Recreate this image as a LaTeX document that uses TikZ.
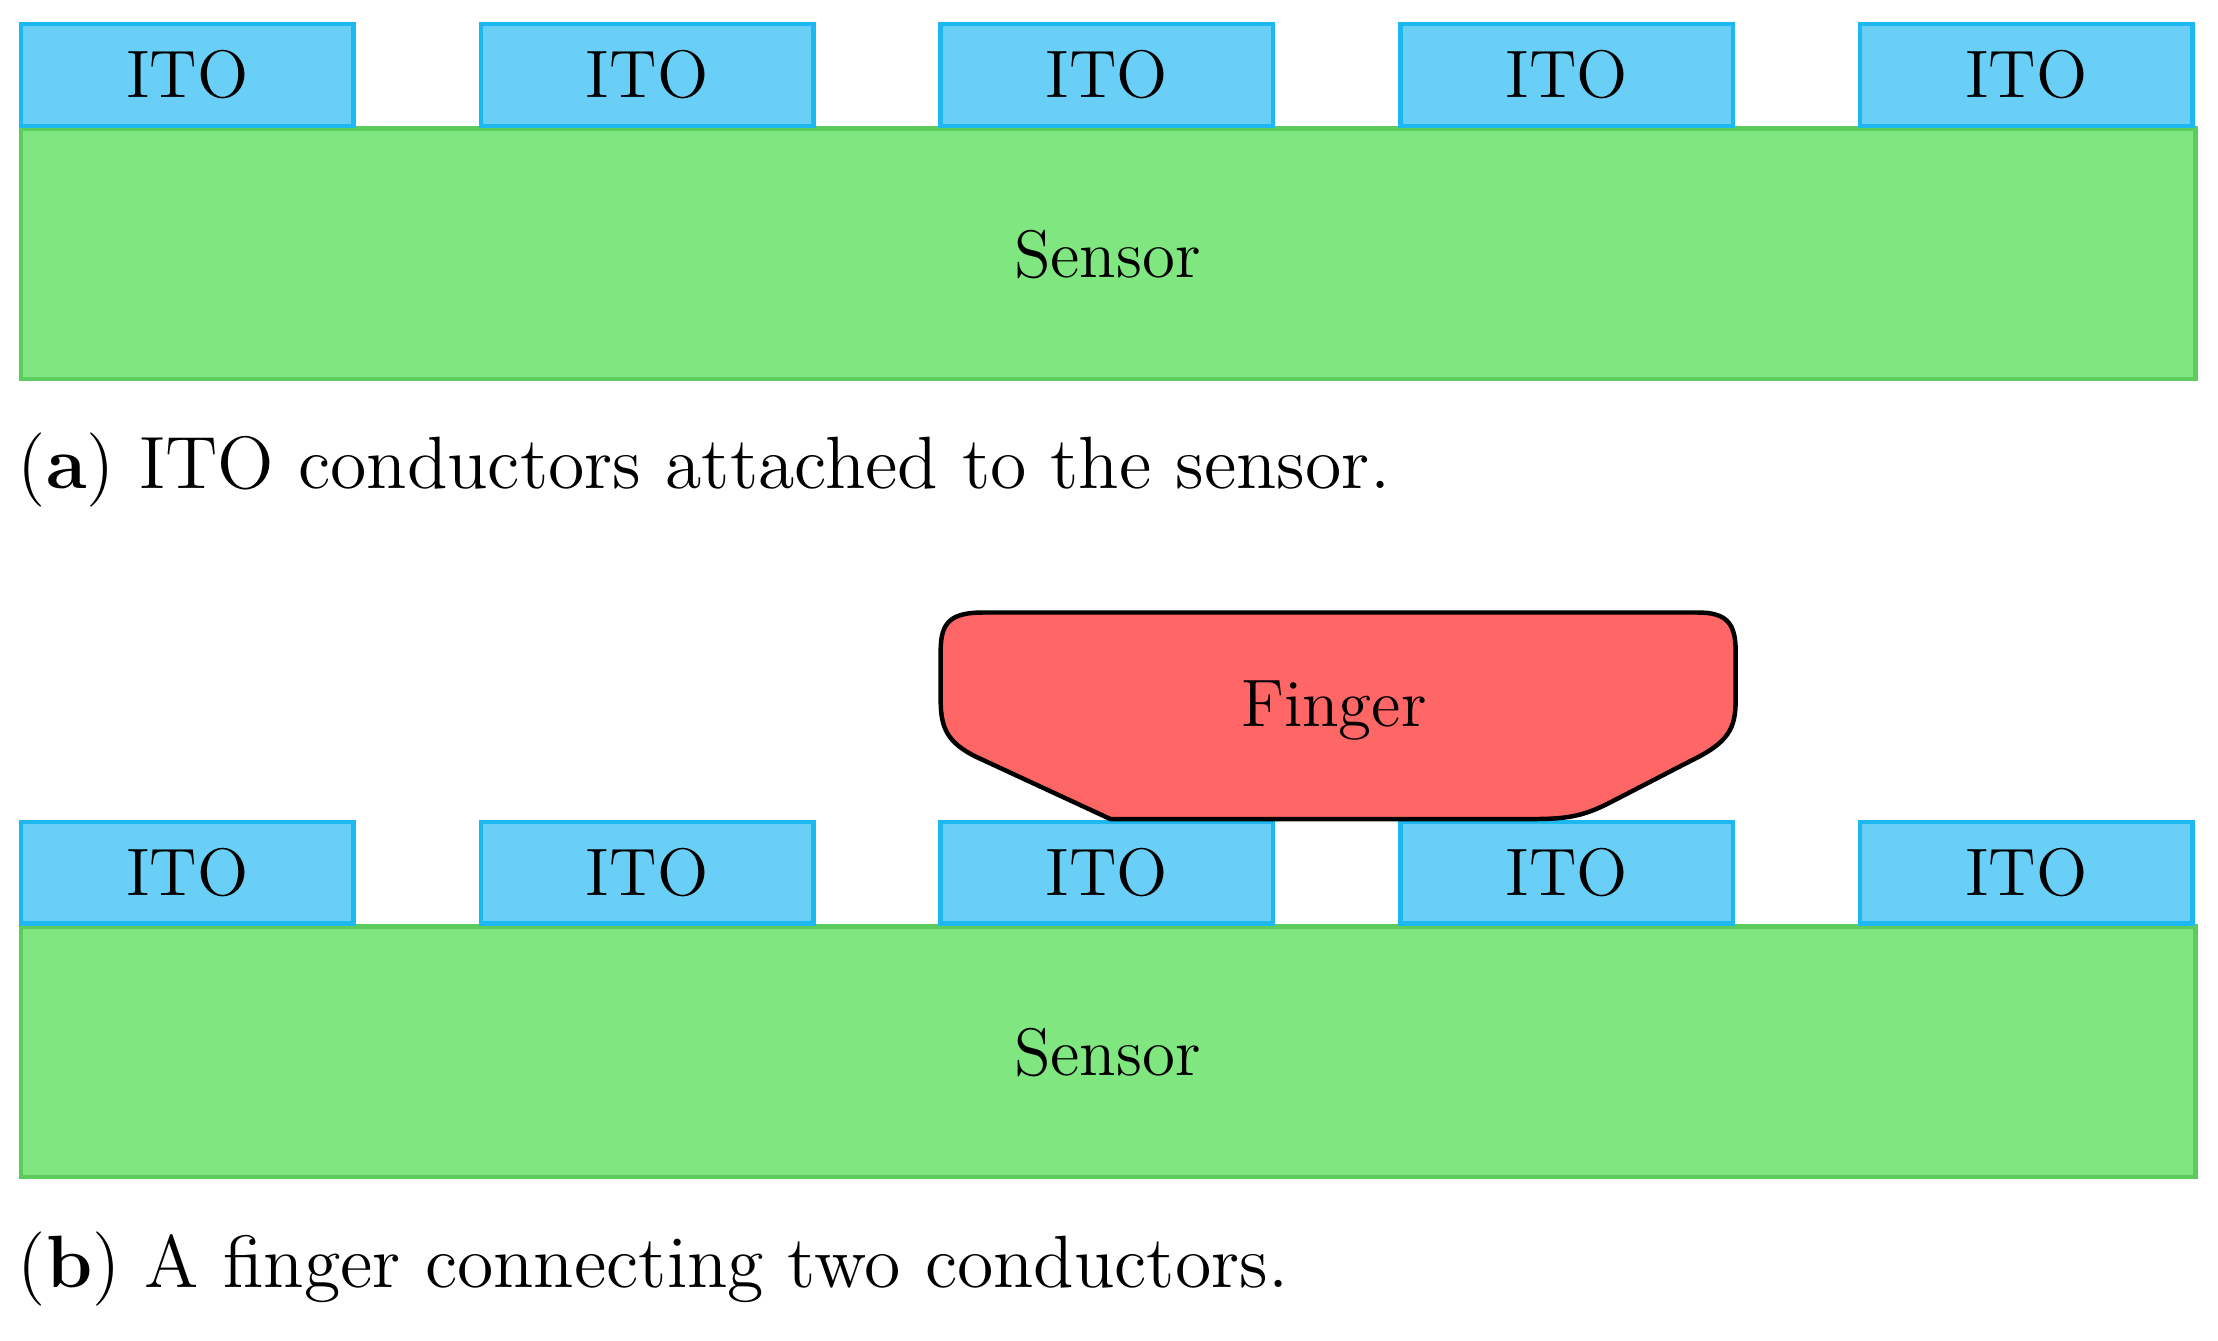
\documentclass[tikz,border=0pt]{standalone}
\begin{document}
\begin{tikzpicture}[x=0.01cm,y=-0.01cm,
  ito/.style={draw={rgb,255:red,29;green,184;blue,240},fill={rgb,255:red,106;green,207;blue,246},line width=0.9pt},
  sensor/.style={draw={rgb,255:red,92;green,204;blue,92},fill={rgb,255:red,128;green,230;blue,128},line width=0.9pt},
  lbl/.style={font=\fontsize{13.5}{15}\selectfont},
  captxt/.style={font=\fontsize{14.9}{17}\selectfont,anchor=base west,inner sep=0pt}]
\useasboundingbox (0,0) rectangle (1568,948);
\foreach \yo/\p in {0/a,564/b}{
  \begin{scope}[yshift=-\yo*0.01cm]
  \draw[sensor] (15,91) rectangle (1552,268);
  \node[lbl] (sens\p) at (783,180) {Sensor};
  \foreach \i/\x in {1/15,2/340,3/665,4/990,5/1315}{
    \draw[ito] (\x,17) rectangle ++(235,72);
    \node[lbl] (ito\p\i) at (\x+117.5,53) {ITO};
  }
  \end{scope}
}
\node[captxt] (capa) at (12,345) {(\textbf{a}) ITO conductors attached to the sensor.};
\node[captxt] (capb) at (12,910) {(\textbf{b}) A finger connecting two conductors.};
\draw[fill={rgb,255:red,255;green,102;blue,102},line width=0.9pt]
  (785,579) -- (1085,579) .. controls (1110,579) and (1120,576) .. (1135,569)
  -- (1195,538) .. controls (1222,525) and (1227,515) .. (1227,495)
  -- (1227,460) .. controls (1227,440) and (1220,433) .. (1200,433)
  -- (695,433) .. controls (672,433) and (665,440) .. (665,460)
  -- (665,495) .. controls (665,515) and (670,525) .. (690,535) -- cycle;
\node[lbl] (finger) at (943,502) {Finger};
\end{tikzpicture}
\end{document}
